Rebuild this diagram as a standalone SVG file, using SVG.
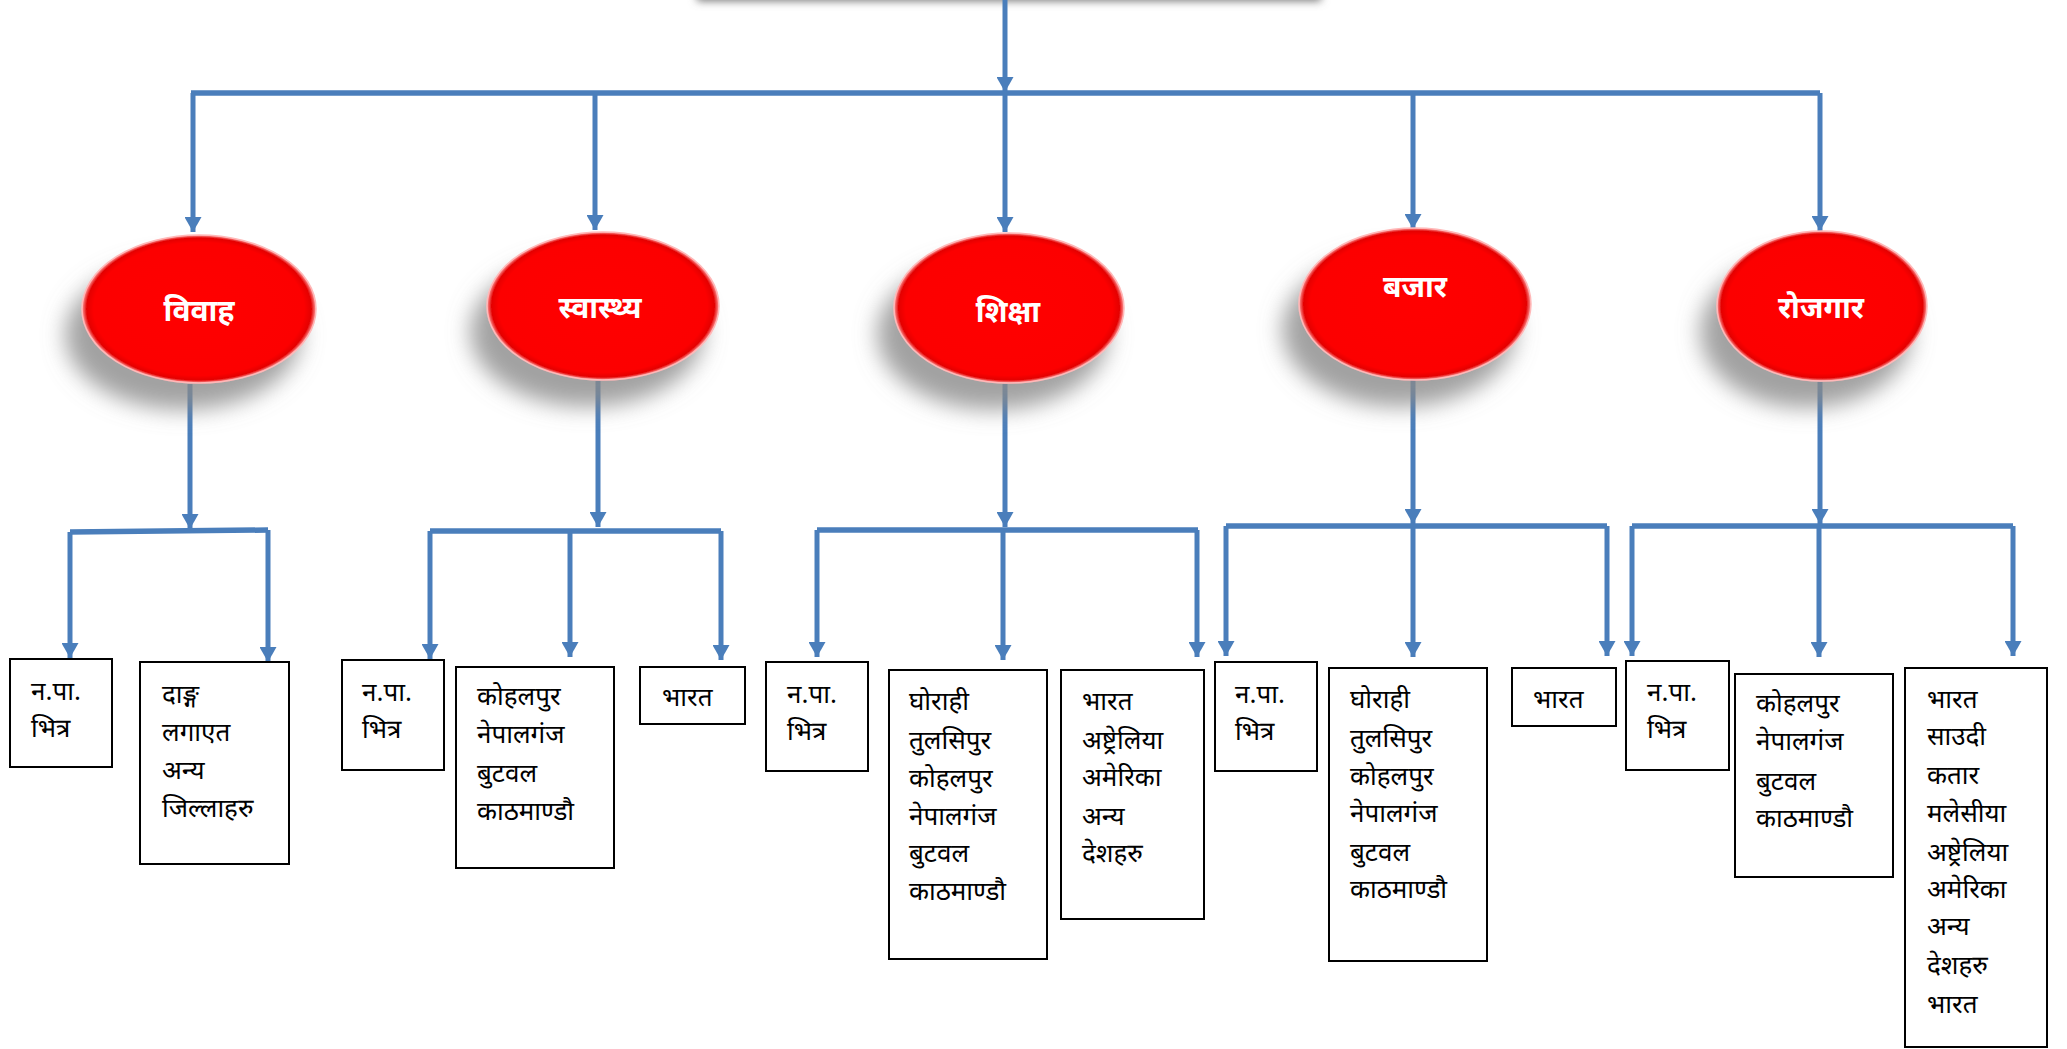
<svg xmlns="http://www.w3.org/2000/svg" width="2067" height="1049" viewBox="0 0 2067 1049">
<style>
.conn{fill:none;stroke:#4a7ebb;stroke-width:5}
.bus{fill:none;stroke:#4a7ebb;stroke-width:5.5}
.box{fill:#fff;stroke:#000;stroke-width:2}
.t{font-family:"Noto Sans Devanagari","Noto Sans","Lohit Devanagari",sans-serif;font-size:26px;fill:#000}
.lbl{font-family:"Noto Sans Devanagari","Noto Sans","Lohit Devanagari",sans-serif;font-size:30px;font-weight:bold;fill:#fff;text-anchor:middle}
.ell{fill:url(#red);stroke:#ffb8b8;stroke-width:1.5}
</style>
<defs>
<marker id="ah" viewBox="0 0 15 17" refX="15" refY="8.5" markerWidth="15" markerHeight="17" markerUnits="userSpaceOnUse" orient="auto">
<path d="M0,0 L15,8.5 L0,17 z" fill="#4a7ebb"/>
</marker>
<radialGradient id="red" cx="0.5" cy="0.5" r="0.5">
<stop offset="0" stop-color="#ff0000"/>
<stop offset="0.9" stop-color="#fc0000"/>
<stop offset="0.96" stop-color="#e40000"/>
<stop offset="1" stop-color="#ff9a9a"/>
</radialGradient>
<filter id="sh" x="-40%" y="-40%" width="180%" height="180%">
<feGaussianBlur in="SourceAlpha" stdDeviation="11"/>
<feOffset dx="-16" dy="26" result="b"/>
<feFlood flood-color="#8a8a8a" flood-opacity="0.8"/>
<feComposite in2="b" operator="in"/>
<feMerge><feMergeNode/><feMergeNode in="SourceGraphic"/></feMerge>
</filter>
<filter id="topsh" x="-10%" y="-100%" width="120%" height="300%">
<feGaussianBlur stdDeviation="4"/>
</filter>
</defs>
<rect width="2067" height="1049" fill="#fff"/>
<g id="top-node">
<rect x="697" y="-40" width="624" height="41" fill="#777" filter="url(#topsh)"/>
<rect x="700" y="-60" width="618" height="58" fill="#fff"/>
</g>
<g id="connectors">
<path class="conn" d="M1005,0 V92" marker-end="url(#ah)"/>
<path class="bus" d="M191,93 H1820"/>
<path class="conn" d="M193,93 V232" marker-end="url(#ah)"/>
<path class="conn" d="M595,93 V230" marker-end="url(#ah)"/>
<path class="conn" d="M1005,93 V232" marker-end="url(#ah)"/>
<path class="conn" d="M1413,93 V229" marker-end="url(#ah)"/>
<path class="conn" d="M1820,93 V231" marker-end="url(#ah)"/>
<path class="conn" d="M190,384 V529" marker-end="url(#ah)"/>
<path class="bus" d="M70,532 L268,530"/>
<path class="conn" d="M70,532 V658" marker-end="url(#ah)"/>
<path class="conn" d="M268,530 V662" marker-end="url(#ah)"/>
<path class="conn" d="M598,381 V527" marker-end="url(#ah)"/>
<path class="bus" d="M430,531 H721"/>
<path class="conn" d="M430,531 V659" marker-end="url(#ah)"/>
<path class="conn" d="M570,531 V657" marker-end="url(#ah)"/>
<path class="conn" d="M721,531 V660" marker-end="url(#ah)"/>
<path class="conn" d="M1005,384 V527" marker-end="url(#ah)"/>
<path class="bus" d="M817,530 H1198"/>
<path class="conn" d="M817,530 V657" marker-end="url(#ah)"/>
<path class="conn" d="M1003,530 V660" marker-end="url(#ah)"/>
<path class="conn" d="M1197,530 V657" marker-end="url(#ah)"/>
<path class="conn" d="M1413,380 V524" marker-end="url(#ah)"/>
<path class="bus" d="M1226,526 H1607"/>
<path class="conn" d="M1226,526 V656" marker-end="url(#ah)"/>
<path class="conn" d="M1413,526 V657" marker-end="url(#ah)"/>
<path class="conn" d="M1607,526 V656" marker-end="url(#ah)"/>
<path class="conn" d="M1820,382 V524" marker-end="url(#ah)"/>
<path class="bus" d="M1632,526 H2013"/>
<path class="conn" d="M1632,526 V656" marker-end="url(#ah)"/>
<path class="conn" d="M1819,526 V657" marker-end="url(#ah)"/>
<path class="conn" d="M2013,526 V656" marker-end="url(#ah)"/>
</g>
<g id="n-vivah"><ellipse class="ell" cx="199" cy="309" rx="117" ry="74" filter="url(#sh)"/><text class="lbl" x="199" y="321">विवाह</text></g>
<g id="n-swasthya"><ellipse class="ell" cx="603" cy="306" rx="116" ry="74" filter="url(#sh)"/><text class="lbl" x="600" y="318">स्वास्थ्य</text></g>
<g id="n-shiksha"><ellipse class="ell" cx="1009" cy="308" rx="115" ry="75" filter="url(#sh)"/><text class="lbl" x="1008" y="322">शिक्षा</text></g>
<g id="n-bajar"><ellipse class="ell" cx="1415" cy="304" rx="116" ry="76" filter="url(#sh)"/><text class="lbl" x="1415" y="297">बजार</text></g>
<g id="n-rojgar"><ellipse class="ell" cx="1822" cy="306" rx="105" ry="75" filter="url(#sh)"/><text class="lbl" x="1821" y="318">रोजगार</text></g>
<g id="b1"><rect class="box" x="10" y="659" width="102" height="108"/><text class="t" x="31" y="700">न.पा.</text><text class="t" x="31" y="737">भित्र</text></g>
<g id="b2"><rect class="box" x="140" y="662" width="149" height="202"/><text class="t" x="162" y="703">दाङ्ग</text><text class="t" x="162" y="741">लगाएत</text><text class="t" x="162" y="779">अन्य</text><text class="t" x="162" y="817">जिल्लाहरु</text></g>
<g id="b3"><rect class="box" x="342" y="660" width="102" height="110"/><text class="t" x="362" y="701">न.पा.</text><text class="t" x="362" y="738">भित्र</text></g>
<g id="b4"><rect class="box" x="456" y="667" width="158" height="201"/><text class="t" x="477" y="705">कोहलपुर</text><text class="t" x="477" y="743">नेपालगंज</text><text class="t" x="477" y="782">बुटवल</text><text class="t" x="477" y="820">काठमाण्डौ</text></g>
<g id="b5"><rect class="box" x="640" y="667" width="105" height="57"/><text class="t" x="662" y="706">भारत</text></g>
<g id="b6"><rect class="box" x="766" y="662" width="102" height="109"/><text class="t" x="787" y="703">न.पा.</text><text class="t" x="787" y="740">भित्र</text></g>
<g id="b7"><rect class="box" x="889" y="670" width="158" height="289"/><text class="t" x="909" y="710">घोराही</text><text class="t" x="909" y="749">तुलसिपुर</text><text class="t" x="909" y="787">कोहलपुर</text><text class="t" x="909" y="825">नेपालगंज</text><text class="t" x="909" y="862">बुटवल</text><text class="t" x="909" y="900">काठमाण्डौ</text></g>
<g id="b8"><rect class="box" x="1061" y="670" width="143" height="249"/><text class="t" x="1082" y="710">भारत</text><text class="t" x="1082" y="749">अष्ट्रेलिया</text><text class="t" x="1082" y="786">अमेरिका</text><text class="t" x="1082" y="825">अन्य</text><text class="t" x="1082" y="862">देशहरु</text></g>
<g id="b9"><rect class="box" x="1215" y="662" width="102" height="109"/><text class="t" x="1235" y="703">न.पा.</text><text class="t" x="1235" y="740">भित्र</text></g>
<g id="b10"><rect class="box" x="1329" y="668" width="158" height="293"/><text class="t" x="1350" y="708">घोराही</text><text class="t" x="1350" y="747">तुलसिपुर</text><text class="t" x="1350" y="785">कोहलपुर</text><text class="t" x="1350" y="822">नेपालगंज</text><text class="t" x="1350" y="861">बुटवल</text><text class="t" x="1350" y="898">काठमाण्डौ</text></g>
<g id="b11"><rect class="box" x="1512" y="668" width="104" height="58"/><text class="t" x="1533" y="708">भारत</text></g>
<g id="b12"><rect class="box" x="1626" y="661" width="103" height="109"/><text class="t" x="1647" y="701">न.पा.</text><text class="t" x="1647" y="738">भित्र</text></g>
<g id="b13"><rect class="box" x="1735" y="674" width="158" height="203"/><text class="t" x="1756" y="712">कोहलपुर</text><text class="t" x="1756" y="750">नेपालगंज</text><text class="t" x="1756" y="790">बुटवल</text><text class="t" x="1756" y="827">काठमाण्डौ</text></g>
<g id="b14"><rect class="box" x="1905" y="668" width="142" height="379"/><text class="t" x="1927" y="708">भारत</text><text class="t" x="1927" y="745">साउदी</text><text class="t" x="1927" y="784">कतार</text><text class="t" x="1927" y="822">मलेसीया</text><text class="t" x="1927" y="861">अष्ट्रेलिया</text><text class="t" x="1927" y="898">अमेरिका</text><text class="t" x="1927" y="935">अन्य</text><text class="t" x="1927" y="974">देशहरु</text><text class="t" x="1927" y="1013">भारत</text></g>
</svg>
